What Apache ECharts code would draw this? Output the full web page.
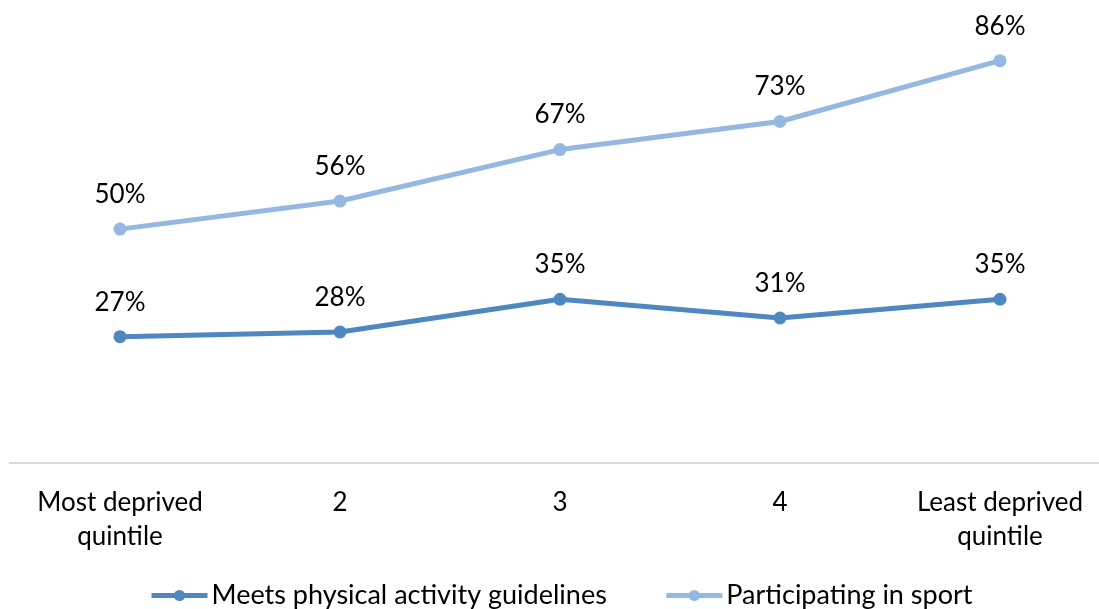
<!DOCTYPE html>
<html lang="en">
<head>
    <meta charset="UTF-8">
    <title>Activity by deprivation quintile</title>
    <style>
        html, body { margin: 0; padding: 0; background: #fff; }
        #chart { width: 1099px; height: 609px; }
    </style>
</head>
<body>
    <div id="chart"></div>
    <script src="https://cdn.jsdelivr.net/npm/echarts@6/dist/echarts.min.js"></script>
    <script>
        var categories = ['Most deprived\nquintile', '2', '3', '4', 'Least deprived\nquintile'];
        var meetsGuidelines = [27, 28, 35, 31, 35];
        var participating = [50, 56, 67, 73, 86];

        var font = 'Lato, "Open Sans", sans-serif';
        var chart = echarts.init(document.getElementById('chart'));

        var option = {
            animation: false,
            textStyle: { fontFamily: font },
            grid: { left: 10, width: 1100, top: 42, height: 421, outerBoundsMode: 'none', containLabel: false },
            legend: {
                top: 577,
                left: 144,
                itemWidth: 56,
                itemHeight: 14,
                itemGap: 57,
                lineStyle: { width: 5 },
                textStyle: { fontSize: 27, color: '#000', fontFamily: font, padding: [0, 0, 0, -1] },
                data: ['Meets physical activity guidelines', 'Participating in sport']
            },
            xAxis: {
                type: 'category',
                data: categories,
                axisLine: { lineStyle: { color: '#d9d9d9', width: 2 } },
                axisTick: { show: false },
                axisLabel: { color: '#000', fontSize: 26, lineHeight: 34, margin: 23, fontFamily: font }
            },
            yAxis: {
                type: 'value',
                min: 0,
                max: 90,
                show: false,
                splitLine: { show: false }
            },
            series: [
                {
                    name: 'Meets physical activity guidelines',
                    type: 'line',
                    data: meetsGuidelines,
                    symbol: 'circle',
                    symbolSize: 13,
                    lineStyle: { width: 5, color: '#4f87bf' },
                    itemStyle: { color: '#4f87bf' },
                    label: { show: true, position: 'top', distance: 15, fontSize: 26, color: '#000', formatter: '{c}%' }
                },
                {
                    name: 'Participating in sport',
                    type: 'line',
                    data: participating,
                    symbol: 'circle',
                    symbolSize: 13,
                    lineStyle: { width: 5, color: '#95b8e0' },
                    itemStyle: { color: '#95b8e0' },
                    label: { show: true, position: 'top', distance: 15, fontSize: 26, color: '#000', formatter: '{c}%' }
                }
            ]
        };
        chart.setOption(option);
    </script>
</body>
</html>
